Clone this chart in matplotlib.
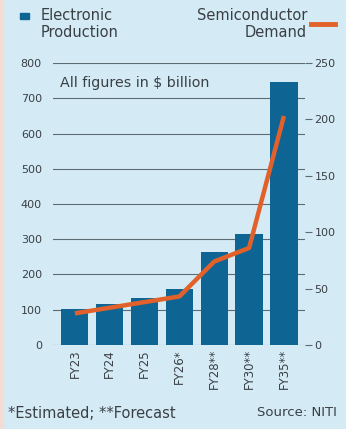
import numpy as np
import matplotlib.pyplot as plt

# data
years = ["FY23", "FY24", "FY25", "FY26*", "FY28**", "FY30**", "FY35**"]
production = [103, 115, 132, 158, 265, 315, 745]
demand = [28, 33, 38, 43, 74, 86, 203]

bg = "#d4ebf5"
bar_col = "#0e6594"
line_col = "#e2612b"
txt = "#3a3f44"
grid_col = "#5d6b72"

plt.rcParams['font.family'] = ['DejaVu Sans']

fig = plt.figure(figsize=(3.46, 4.29), dpi=100)
fig.patch.set_facecolor(bg)
# pinkish strip on the left edge
fig.patches.append(plt.Rectangle((0, 0), 0.009, 1, transform=fig.transFigure,
                                 color="#f3dcd6", zorder=0))

ax = fig.add_axes([0.153, 0.196, 0.728, 0.657])
ax.set_facecolor(bg)
x = np.arange(len(years))
ax.bar(x, production, width=0.78, color=bar_col, zorder=2)
ax.set_ylim(0, 800)
ax.set_xlim(-0.63, 6.6)
ax.set_yticks(range(0, 801, 100))
ax.grid(axis="y", color=grid_col, linewidth=0.8, zorder=0)
ax.set_xticks(x)
ax.set_xticklabels(years, rotation=90, fontsize=8.5, color=txt)
ax.tick_params(axis="y", labelsize=8, colors=txt, length=0, pad=8)
ax.tick_params(axis="x", length=0, pad=3)
for s in ax.spines.values():
    s.set_visible(False)

ax2 = ax.twinx()
ax2.plot(x, demand, color=line_col, linewidth=3.2, solid_capstyle="butt",
         zorder=3)
ax2.set_ylim(0, 250)
ax2.set_yticks(range(0, 251, 50))
ax2.tick_params(axis="y", labelsize=8, colors=txt, length=5, width=0.8,
                color=grid_col, pad=2)
for s in ax2.spines.values():
    s.set_visible(False)

ax.text(0.03, 0.955, "All figures in $ billion", transform=ax.transAxes,
        fontsize=10.3, color=txt, va="top", ha="left")

# legend
fig.patches.append(plt.Rectangle((20 / 346, 1 - 19 / 429), 9 / 346, 6 / 429,
                                 transform=fig.transFigure, color=bar_col))
fig.text(41 / 346, 1 - 8 / 429, "Electronic\nProduction", fontsize=10.5,
         color=txt, va="top", ha="left", linespacing=1.2)
fig.text(307 / 346, 1 - 8 / 429, "Semiconductor\nDemand", fontsize=10.5,
         color=txt, va="top", ha="right", linespacing=1.2)
fig.lines.append(plt.Line2D([311 / 346, 335 / 346], [1 - 24 / 429, 1 - 24 / 429],
                            transform=fig.transFigure, color=line_col,
                            linewidth=3.5))

# footnotes
fig.text(8 / 346, 1 - 413 / 429, "*Estimated; **Forecast", fontsize=10.5,
         color=txt, va="center", ha="left")
fig.text(337 / 346, 1 - 413 / 429, "Source: NITI", fontsize=9.5,
         color=txt, va="center", ha="right")

fig.savefig("out.png", dpi=100, facecolor=bg)
